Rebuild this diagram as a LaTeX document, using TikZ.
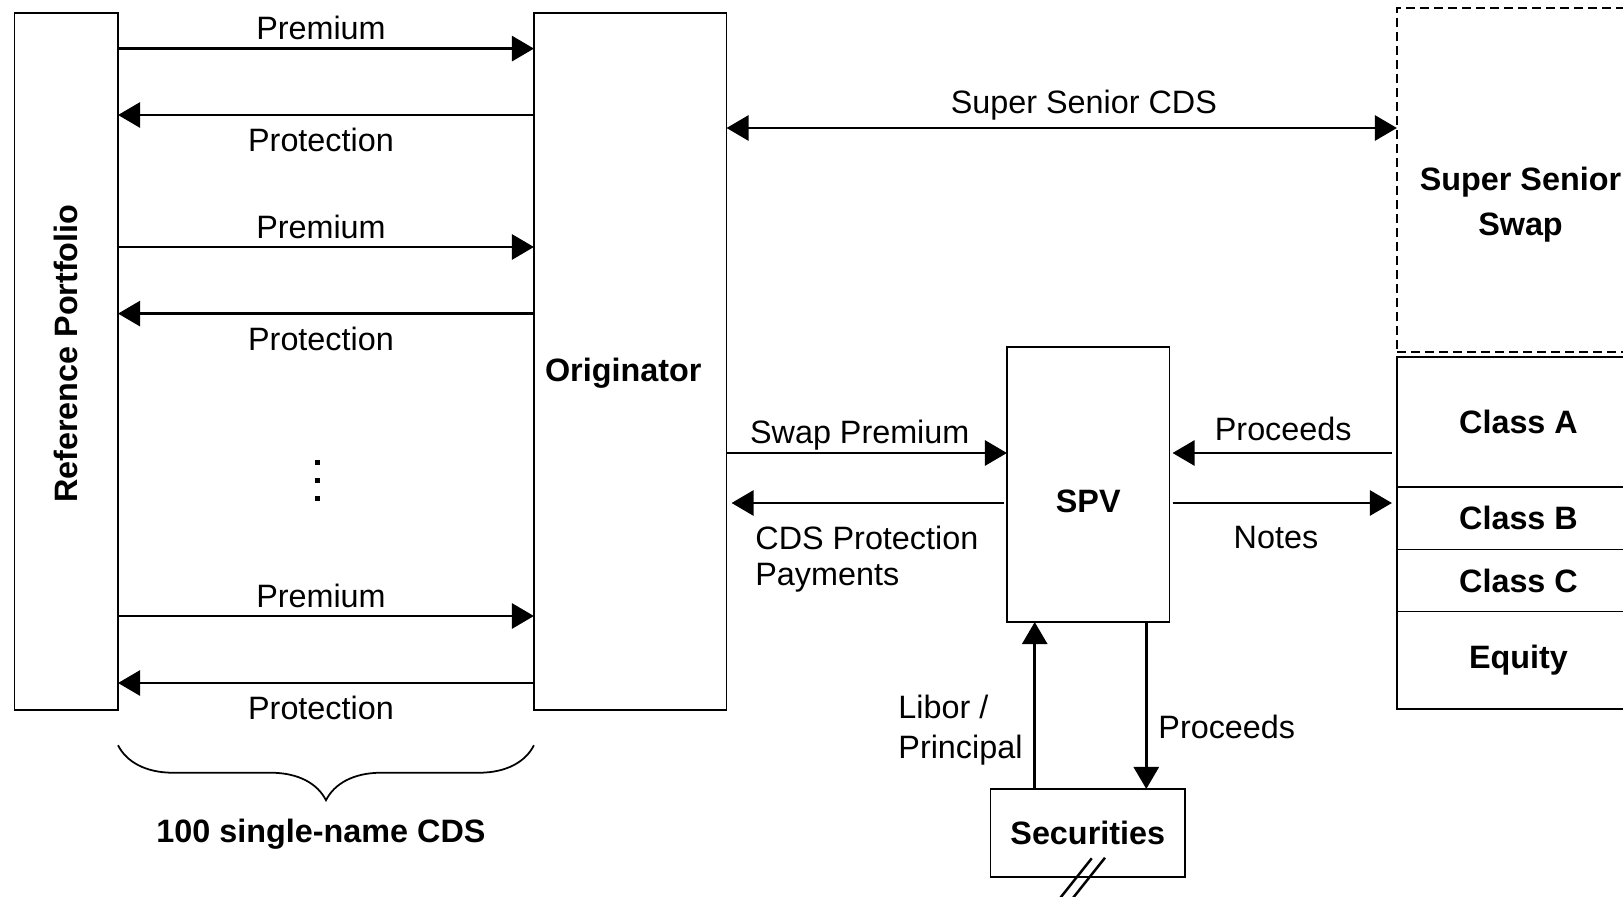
\documentclass[tikz,border=0pt]{standalone}
\usepackage{fontspec}
\setmainfont{Liberation Sans}
\usetikzlibrary{arrows.meta,positioning,decorations.pathreplacing}

\begin{document}
\fontsize{9.2}{10}\selectfont
\begin{tikzpicture}[x=0.01cm, y=0.01cm,
	box/.style={draw, rectangle, line width=0.5pt, inner sep=0pt, outer sep=0pt},
	bold/.style={font=\bfseries},
	flow/.style={-{Triangle[length=2.2mm, width=2.5mm]}, line width=0.8pt},
	twoway/.style={{Triangle[length=2.2mm, width=2.5mm]}-{Triangle[length=2.2mm, width=2.5mm]}, line width=0.8pt},
	every label/.style={inner sep=0pt}]
	\useasboundingbox (0,0) rectangle (1623,896);
	\clip (0,0) rectangle (1623,896);

	\node[box, minimum width=1.035cm, minimum height=6.965cm,
		label={[rotate=90, bold, xshift=0.08cm]center:Reference Portfolio}]	(rp)	at (66.25,534.25)	{};
	\node[box, minimum width=1.925cm, minimum height=6.965cm,
		label={[bold, xshift=-0.07cm, yshift=-0.115cm]center:Originator}]	(o)		at (630.25,534.25)	{};
	\node[box, dashed, dash pattern=on 0.09cm off 0.05cm, line width=0.7pt,
		minimum width=2.43cm, minimum height=3.44cm,
		label={[font=\fontsize{9.2}{12.7}\selectfont\bfseries, align=center, xshift=0.02cm, yshift=-0.245cm]center:Super Senior\\Swap}]	(sss)	at (1518.5,716)	{};
	\node[box, bold, minimum width=2.43cm, minimum height=1.305cm]	(ca)	at (1518.5,474)	{Class A};
	\node[box, bold, minimum width=2.43cm, minimum height=0.621cm, below=0pt of ca]	(cb)	{Class B};
	\node[box, bold, minimum width=2.43cm, minimum height=0.621cm, below=0pt of cb]	(cc)	{Class C};
	\node[box, bold, minimum width=2.43cm, minimum height=0.973cm, below=0pt of cc]	(eq)	{Equity};
	\node[box, minimum width=1.625cm, minimum height=2.75cm,
		label={[bold, yshift=-0.165cm]center:SPV}]	(spv)	at (1088.25,411.5)	{};
	\node[box, bold, minimum width=1.945cm, minimum height=0.876cm]	(sec)	at (1087.75,63.2)	{Securities};
	\node[bold]	(n100)	at (321,62)	{100 single-name CDS};

	\foreach \d in {433.3, 415.7, 398}
		\fill (315.2,\d-2.5) rectangle ++(5,5);

	\coordinate (r7) at (0,768);
	\coordinate (r8) at (0,443);
	\coordinate (r9) at (0,393);

	\foreach \p/\q in {847.4/781, 649/582.4, 280/213} {
		\draw[flow] (rp.east |- 0,\p) -- node[above, inner sep=2pt, xshift=-0.05cm] {Premium} (o.west |- 0,\p);
		\draw[flow] (o.west |- 0,\q) -- node[below=0.05cm, inner sep=2pt, xshift=-0.05cm] {Protection} (rp.east |- 0,\q);
	}

	\draw[twoway] (o.east |- r7) -- node[above=-0.01cm, inner sep=2pt, pos=0.533] {Super Senior CDS} (sss.west |- r7);
	\draw[flow] (o.east |- r8) -- node[above=-0.06cm, inner sep=2pt, pos=0.475] {Swap Premium} (spv.west |- r8);
	\draw[flow, shorten <=0.03cm, shorten >=0.05cm] (spv.west |- r9) --
		node[anchor=north west, pos=0.92, xshift=0.05cm, yshift=-0.22cm, inner sep=0pt, align=left] {CDS Protection\\Payments} (o.east |- r9);
	\draw[flow, shorten <=0.05cm, shorten >=0.03cm] (ca.west |- r8) -- node[above=0.04cm, inner sep=2pt] {Proceeds} (spv.east |- r8);
	\draw[flow, shorten <=0.03cm, shorten >=0.05cm] (spv.east |- r9) -- node[below=0.15cm, inner sep=2pt, pos=0.468] {Notes} (cb.west |- r9);
	\draw[flow] ([xshift=-0.53cm]sec.north) --
		node[left, align=left, pos=0.35, font=\fontsize{9.2}{11.4}\selectfont] {Libor /\\Principal} ([xshift=-0.53cm]sec.north |- spv.south);
	\draw[flow] ([xshift=0.58cm]spv.south) -- node[right, pos=0.626] {Proceeds} ([xshift=0.58cm]spv.south |- sec.north);

	\draw[decorate, decoration={brace, mirror, amplitude=0.55cm}, line width=0.5pt]
		([yshift=-0.35cm]rp.south east) -- ([yshift=-0.35cm]o.south west);

	\draw[line width=0.7pt] (sec.south) ++(4,18.3) -- ++(-38.2,-48);
	\draw[line width=0.7pt] (sec.south) ++(17.25,18.9) -- ++(-38.2,-48);
\end{tikzpicture}
\end{document}
